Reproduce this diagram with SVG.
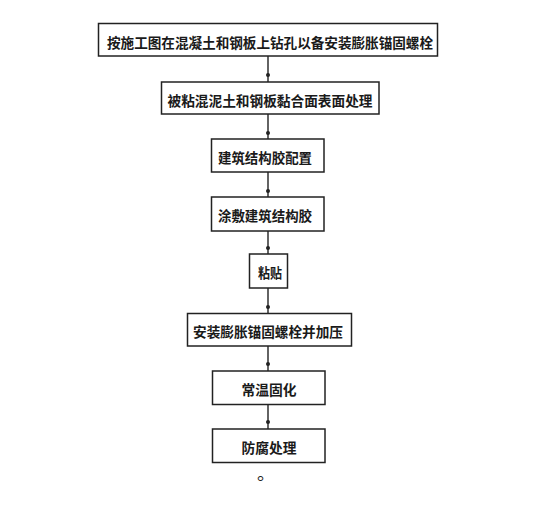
<svg xmlns="http://www.w3.org/2000/svg" width="546" height="521" viewBox="0 0 546 521">
<style>
.box{fill:#fff;stroke:#222;stroke-width:1.5}
.lbl{font-family:"Noto Sans CJK SC","Noto Sans CJK TC",sans-serif;font-size:14px;font-weight:bold;fill:#1a1a1a;text-anchor:middle}
.ln{stroke:#222;stroke-width:1.4;fill:none}
.dot{fill:#222}
</style>
<defs>
<clipPath id="cut"><rect x="240" y="466" width="50" height="15.5"/></clipPath>
</defs>
<rect width="546" height="521" fill="#fff"/>
<g id="connectors">
<line class="ln" x1="268" y1="56" x2="268" y2="82"/><circle class="dot" cx="268" cy="75" r="2"/>
<line class="ln" x1="268" y1="114" x2="268" y2="139"/><circle class="dot" cx="268" cy="133" r="2"/>
<line class="ln" x1="268" y1="172" x2="268" y2="197"/><circle class="dot" cx="268" cy="191" r="2"/>
<line class="ln" x1="268" y1="231" x2="268" y2="254"/><circle class="dot" cx="268" cy="248" r="2"/>
<line class="ln" x1="268" y1="288" x2="268" y2="313"/><circle class="dot" cx="268" cy="307" r="2"/>
<line class="ln" x1="268" y1="346" x2="268" y2="371"/><circle class="dot" cx="268" cy="364" r="2"/>
<line class="ln" x1="268" y1="404" x2="268" y2="429"/><circle class="dot" cx="268" cy="422" r="2"/>
</g>
<g id="n1"><rect class="box" x="98.5" y="23.5" width="339" height="32.5"/><text class="lbl" x="270" y="48" textLength="326" lengthAdjust="spacingAndGlyphs">按施工图在混凝土和钢板上钻孔以备安装膨胀锚固螺栓</text></g>
<g id="n2"><rect class="box" x="161.5" y="82" width="217.5" height="32"/><text class="lbl" x="270" y="105.5" textLength="205" lengthAdjust="spacingAndGlyphs">被粘混泥土和钢板黏合面表面处理</text></g>
<g id="n3"><rect class="box" x="211.5" y="139" width="112.5" height="33"/><text class="lbl" x="265" y="163" textLength="94" lengthAdjust="spacingAndGlyphs">建筑结构胶配置</text></g>
<g id="n4"><rect class="box" x="211.5" y="197" width="112.5" height="34"/><text class="lbl" x="265" y="221" textLength="94" lengthAdjust="spacingAndGlyphs">涂&#x6577;建筑结构胶</text></g>
<g id="n5"><rect class="box" x="249.5" y="254" width="38" height="34"/><text class="lbl" x="270" y="278" textLength="24" lengthAdjust="spacingAndGlyphs">粘贴</text></g>
<g id="n6"><rect class="box" x="187.5" y="313.5" width="164" height="32.5"/><text class="lbl" x="268" y="337" textLength="150" lengthAdjust="spacingAndGlyphs">安装膨胀锚固螺栓并加压</text></g>
<g id="n7"><rect class="box" x="212.5" y="371" width="112.5" height="33.5"/><text class="lbl" x="269" y="395" textLength="55" lengthAdjust="spacingAndGlyphs">常温固化</text></g>
<g id="n8"><rect class="box" x="212.5" y="429" width="112.5" height="33.5"/><text class="lbl" x="269" y="453" textLength="55" lengthAdjust="spacingAndGlyphs">防腐处理</text></g>
<text x="257" y="480" clip-path="url(#cut)" style="font-family:'Noto Sans CJK SC',sans-serif;font-size:18px;fill:#222">。</text>
</svg>
